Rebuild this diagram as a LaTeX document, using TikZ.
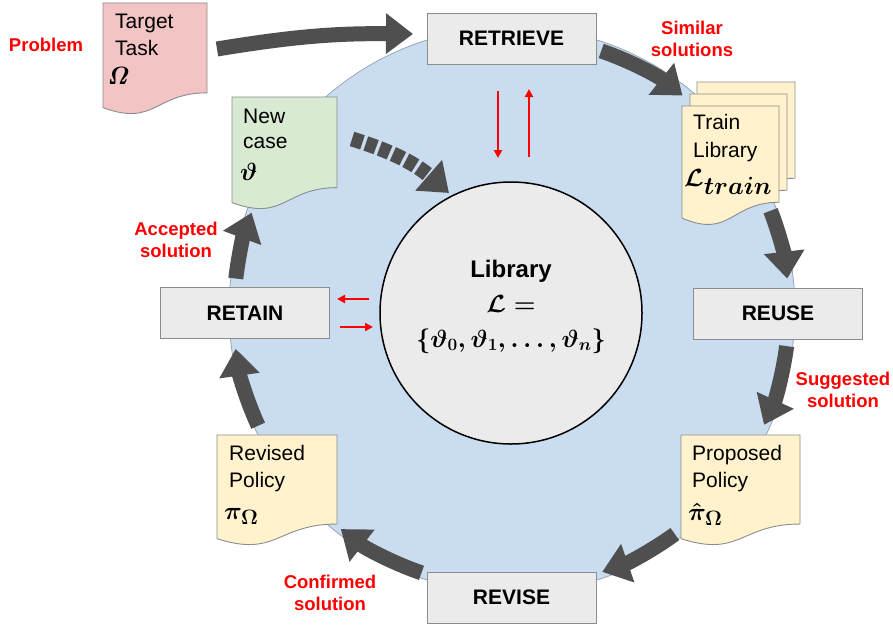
\documentclass[tikz,border=0pt]{standalone}
\usepackage{amsmath,bm}
\usepackage[no-math]{fontspec}
\setmainfont{Liberation Sans}
\usetikzlibrary{arrows.meta,calc}
\definecolor{blueC}{HTML}{C9DCF0}
\definecolor{blueB}{HTML}{8FA0B2}
\definecolor{grayF}{HTML}{EBEBEB}
\definecolor{grayL}{HTML}{8C8C8C}
\definecolor{darkA}{HTML}{4F4F4F}
\definecolor{pinkD}{HTML}{F2C4C4}
\definecolor{greenD}{HTML}{D9EAD3}
\definecolor{yellowD}{HTML}{FFF2CC}
\definecolor{redT}{HTML}{FF0000}
\tikzset{
 procbox/.style={draw=grayL, fill=grayF, line width=0.9pt, minimum width=169pt, minimum height=51pt, font=\fontsize{21}{24}\selectfont\bfseries, inner sep=0pt},
 redlab/.style={text=redT, font=\fontsize{18.5}{22.5}\selectfont\bfseries, align=center, inner sep=0pt},
 doctext/.style={font=\fontsize{21}{27}\selectfont, anchor=base west, inner sep=0pt},
 docmath/.style={font=\fontsize{28}{30}\selectfont\boldmath, anchor=base west, inner sep=0pt},
 libmath/.style={font=\fontsize{25}{28}\selectfont\boldmath, anchor=base, inner sep=0pt},
 bigarrow/.style={draw=darkA, line width=15pt, -{Triangle[width=39pt,length=27pt]}},
 redarrow/.style={draw=redT, line width=2.2pt, -{Triangle[width=8pt,length=8pt]}},
 docline/.style={draw=grayL, line width=0.9pt},
}
% x, y(top, image coords), width, height, fill
\newcommand{\docshape}[5]{%
 \draw[docline,fill=#5] (#1,-#2) -- ({#1+#3},-#2) -- ({#1+#3},{-#2-0.802*#4})
  .. controls ({#1+0.5*#3},{-#2-0.802*#4}) and ({#1+0.5*#3},{-#2-1.107*#4}) ..
  (#1,{-#2-0.934*#4}) -- cycle;}
\begin{document}
\begin{tikzpicture}[x=1pt,y=1pt]
\fill[white] (0,0) rectangle (893,-626);
\useasboundingbox (0,0) rectangle (893,-626);
% big circle
\coordinate (C) at (512,-310);
\fill[blueC, draw=blueB, line width=0.7pt] (C) circle[radius=283pt];
% inner library circle
\node[circle, draw=black, line width=1.5pt, fill=grayF, minimum size=262pt, inner sep=0pt] (lib) at (511,-313) {};
\node[font=\fontsize{24}{28}\selectfont\bfseries, anchor=base, inner sep=0pt] (lib1) at (511,-277) {Library};
\node[libmath] (lib2) at (511,-312) {$\mathcal{L}=$};
\node[libmath] (lib3) at (511,-347) {$\{\vartheta_0,\vartheta_1,\dots,\vartheta_n\}$};

% big arrows along the cycle
\coordinate (a2s) at ($(C)+(71:274pt)$);
\draw[bigarrow] (a2s) arc[start angle=71, end angle=51.5, radius=274pt];
\coordinate (a3s) at ($(C)+(21:277pt)$);
\draw[bigarrow] (a3s) arc[start angle=21, end angle=6.5, radius=277pt];
\coordinate (a4s) at ($(C)+(-7.5:277pt)$);
\draw[bigarrow] (a4s) arc[start angle=-7.5, end angle=-24.5, radius=277pt];
\coordinate (a5s) at ($(C)+(-54:277pt)$);
\draw[bigarrow] (a5s) arc[start angle=-54, end angle=-71, radius=277pt];
\coordinate (a6s) at ($(C)+(-109:278pt)$);
\draw[bigarrow] (a6s) arc[start angle=-109, end angle=-128, radius=278pt];
\coordinate (a7s) at ($(C)+(204.5:279pt)$);
\draw[bigarrow] (a7s) arc[start angle=204.5, end angle=188, radius=279pt];
\coordinate (a8s) at ($(C)+(173.5:278pt)$);
\draw[bigarrow] (a8s) arc[start angle=173.5, end angle=159.5, radius=278pt];
% problem -> retrieve
\coordinate (a1s) at (217,-49);
\coordinate (a1e) at (413,-34);
\draw[bigarrow] (a1s) to[bend left=5] (a1e);
% new case -> library (dashed)
\coordinate (a9s) at (352,-139);
\coordinate (a9e) at (449,-193);
\draw[bigarrow, dash pattern=on 11pt off 3.5pt] (a9s) to[bend left=12] (a9e);

% documents
\docshape{103}{3}{104}{112}{pinkD}
\node[doctext] (tt1) at (115,-29) {Target};
\node[doctext] (tt2) at (115,-56) {Task};
\node[docmath] (tt3) at (107,-84) {$\mathit{\Omega}$};

\docshape{232}{97}{105}{113}{greenD}
\node[doctext] (nc1) at (243,-123) {New};
\node[doctext] (nc2) at (243,-148) {case};
\node[docmath] (nc3) at (240,-180) {$\vartheta$};

\docshape{697}{82}{98}{120}{yellowD}
\docshape{690}{94}{97}{120}{yellowD}
\docshape{682}{106}{97}{120}{yellowD}
\node[doctext] (tl1) at (693,-129) {Train};
\node[doctext] (tl2) at (693,-157) {Library};
\node[docmath] (tl3) at (684,-186) {$\mathcal{L}_{\mbox{\fontsize{24}{26}\selectfont\boldmath$train$}}$};

\docshape{681}{435}{119}{111}{yellowD}
\node[doctext] (pp1) at (692,-460) {Proposed};
\node[doctext] (pp2) at (692,-487) {Policy};
\node[docmath] (pp3) at (688,-520) {$\hat{\pi}_{\Omega}$};

\docshape{217}{435}{120}{111}{yellowD}
\node[doctext] (rp1) at (229,-460) {Revised};
\node[doctext] (rp2) at (229,-487) {Policy};
\node[docmath] (rp3) at (224,-519) {$\pi_{\Omega}$};

% process boxes
\node[procbox] (retrieve) at (511.5,-38.5) {RETRIEVE};
\node[procbox] (reuse) at (778,-313.5) {REUSE};
\node[procbox] (retain) at (245,-313) {RETAIN};
\node[procbox] (revise) at (511.5,-597.5) {REVISE};

% red arrows
\coordinate (r1s) at (498,-91);  \coordinate (r1e) at (498,-158);
\coordinate (r2s) at (529,-157); \coordinate (r2e) at (529,-89);
\draw[redarrow] (r1s) -- (r1e);
\draw[redarrow] (r2s) -- (r2e);
\coordinate (r3s) at (369,-299); \coordinate (r3e) at (337,-299);
\coordinate (r4s) at (340,-327); \coordinate (r4e) at (373,-327);
\draw[redarrow] (r3s) -- (r3e);
\draw[redarrow] (r4s) -- (r4e);

% red labels
\node[redlab] (lprob) at (46,-45) {Problem};
\node[redlab] (lsim) at (692,-39) {Similar\\solutions};
\node[redlab] (lacc) at (176,-240) {Accepted\\solution};
\node[redlab] (lsug) at (843,-390) {Suggested\\solution};
\node[redlab] (lconf) at (330,-593) {Confirmed\\solution};
\end{tikzpicture}
\end{document}
